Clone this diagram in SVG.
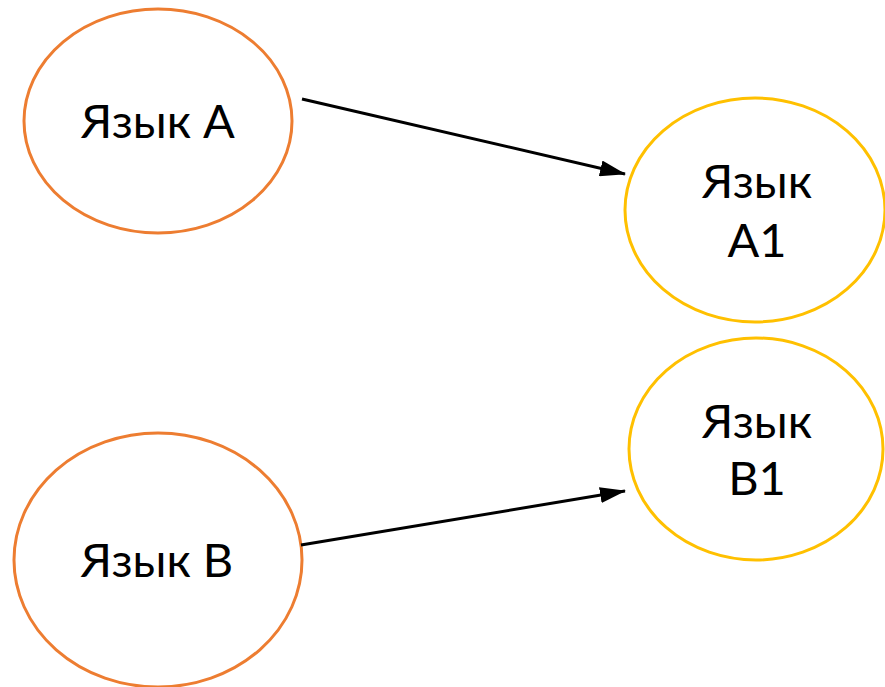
<svg xmlns="http://www.w3.org/2000/svg" width="885" height="687" viewBox="0 0 885 687">
<style>
.src{fill:#fff;stroke:#ED7D31;stroke-width:3}
.dst{fill:#fff;stroke:#FFC000;stroke-width:3}
.t{font-family:Lato,"Open Sans","DejaVu Sans",sans-serif;font-size:47px;fill:#000;text-anchor:middle}
.edge{stroke:#000;stroke-width:3;fill:none;marker-end:url(#ah)}
</style>
<defs>
<marker id="ah" markerUnits="userSpaceOnUse" markerWidth="26" markerHeight="16" refX="25" refY="8" orient="auto">
<path d="M0,0 L26,8 L0,16 Z" fill="#000"/>
</marker>
</defs>
<rect width="885" height="687" fill="#fff"/>
<g id="nodeA">
<ellipse class="src" cx="158" cy="121" rx="134" ry="112"/>
<text class="t" x="158" y="138">Язык A</text>
</g>
<g id="nodeA1">
<ellipse class="dst" cx="755" cy="210" rx="130" ry="112"/>
<text class="t" x="757" y="198">Язык</text>
<text class="t" x="757" y="257">A1</text>
</g>
<g id="nodeB1">
<ellipse class="dst" cx="756" cy="449" rx="127" ry="111"/>
<text class="t" x="757" y="438">Язык</text>
<text class="t" x="757" y="495">B1</text>
</g>
<g id="nodeB">
<ellipse class="src" cx="158" cy="560" rx="144" ry="127"/>
<text class="t" x="157" y="577">Язык B</text>
</g>
<g id="connectors">
<line class="edge" x1="302" y1="99" x2="625" y2="174"/>
<line class="edge" x1="301" y1="545" x2="625" y2="491"/>
</g>
</svg>
